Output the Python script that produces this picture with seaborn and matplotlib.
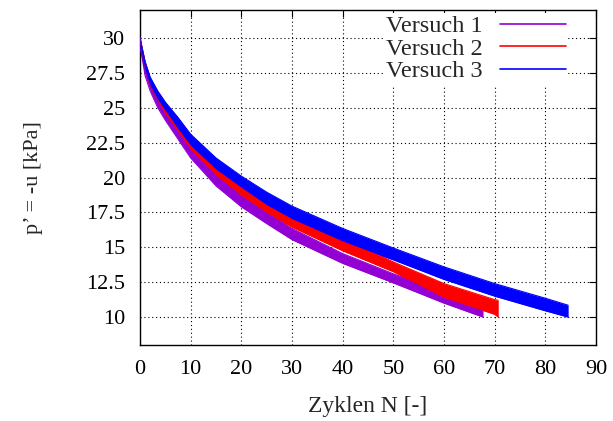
import matplotlib
matplotlib.use("Agg")
import matplotlib.pyplot as plt
import seaborn as sns
import pandas as pd
from matplotlib.lines import Line2D

# ---- data ----
series_names = ["Versuch 1", "Versuch 2", "Versuch 3"]
colors = ["#9400D3", "#FF0000", "#0000FF"]

n_v1 = [0, 1, 2, 3.5, 5, 7.5, 10, 15, 20, 25, 30, 40, 50, 60, 67.7]
upper_v1 = [30.0, 27.9, 26.8, 25.6, 24.7, 23.45, 22.2, 20.2, 18.7, 17.5, 16.35, 14.55, 13.1, 11.8, 10.7]
lower_v1 = [29.5, 27.3, 26.2, 25.0, 24.1, 22.75, 21.4, 19.4, 17.9, 16.7, 15.55, 13.85, 12.45, 11.0, 10.0]

n_v2 = [0, 1, 2, 3.5, 5, 7.5, 10, 15, 20, 25, 30, 40, 50, 60, 70, 70.7]
upper_v2 = [30.0, 28.3, 27.1, 26.1, 25.25, 24.1, 22.8, 21.05, 19.65, 18.5, 17.4, 15.7, 13.95, 12.4, 11.25, 11.2]
lower_v2 = [29.5, 27.7, 26.5, 25.5, 24.55, 23.3, 22.0, 20.15, 18.75, 17.5, 16.45, 14.75, 13.25, 11.4, 10.2, 10.0]

n_v3 = [0, 1, 2, 3.5, 5, 7.5, 10, 15, 20, 25, 30, 40, 50, 60, 70, 80, 84.5]
upper_v3 = [30.0, 28.3, 27.2, 26.2, 25.4, 24.3, 23.1, 21.4, 20.1, 18.95, 17.95, 16.35, 14.95, 13.6, 12.4, 11.35, 10.85]
lower_v3 = [29.5, 27.7, 26.6, 25.6, 24.8, 23.5, 22.3, 20.6, 19.3, 18.05, 17.05, 15.45, 14.1, 12.7, 11.5, 10.45, 10.0]

x_ticks = [0, 10, 20, 30, 40, 50, 60, 70, 80, 90]
y_ticks = [10, 12.5, 15, 17.5, 20, 22.5, 25, 27.5, 30]
y_tick_labels = ["10", "12.5", "15", "17.5", "20", "22.5", "25", "27.5", "30"]

# ---- build long table ----
rows = []
for name, ns, up, lo in zip(series_names, [n_v1, n_v2, n_v3],
                            [upper_v1, upper_v2, upper_v3],
                            [lower_v1, lower_v2, lower_v3]):
    for n, u, l in zip(ns, up, lo):
        rows.append({"N": n, "p": u, "Versuch": name, "bound": "upper"})
        rows.append({"N": n, "p": l, "Versuch": name, "bound": "lower"})
df = pd.DataFrame(rows)

sns.set_style("white")
plt.rcParams["font.family"] = ["Liberation Serif", "DejaVu Serif"]

fig = plt.figure(figsize=(6.13, 4.21), dpi=100)
ax = fig.add_axes([0.2284, 0.1805, 0.9723 - 0.2284, 0.9762 - 0.1805])

palette = dict(zip(series_names, colors))
sns.lineplot(data=df, x="N", y="p", hue="Versuch", units="bound",
             estimator=None, palette=palette, linewidth=0.8, ax=ax,
             legend=False, zorder=3)
for name, ns, up, lo in zip(series_names, [n_v1, n_v2, n_v3],
                            [upper_v1, upper_v2, upper_v3],
                            [lower_v1, lower_v2, lower_v3]):
    ax.fill_between(ns, lo, up, color=palette[name], linewidth=0, zorder=3)

ax.set_xlim(0, 90)
ax.set_ylim(8, 32)
ax.set_xticks(x_ticks)
ax.set_xticklabels([str(t) for t in x_ticks])
ax.set_yticks(y_ticks)
ax.set_yticklabels(y_tick_labels)

ax.grid(True, color="black", linestyle=(0, (1, 2.5)), linewidth=0.8, zorder=1)
ax.set_axisbelow(True)
ax.tick_params(direction="in", length=5, width=0.8, top=True, right=True,
               labelsize=16, colors="black")
ax.tick_params(axis="y", pad=10.5)
ax.tick_params(axis="x", pad=11)
for sp in ax.spines.values():
    sp.set_visible(True)
    sp.set_color("black")
    sp.set_linewidth(1.0)

ax.set_xlabel("Zyklen N [-]", fontsize=17, labelpad=12)
ax.set_ylabel("p\u2019 = -u [kPa]", fontsize=16, labelpad=31)

handles = [Line2D([0], [0], color=c, lw=1.2) for c in colors]
leg = ax.legend(handles, series_names, loc="upper right",
                bbox_to_anchor=(0.9386, 0.992), fontsize=17.5,
                markerfirst=False, frameon=True, facecolor="white",
                edgecolor="none", framealpha=1.0, handlelength=2.7,
                handletextpad=0.7, labelspacing=0.02, borderaxespad=0.0,
                borderpad=0.1, fancybox=False)
leg.set_zorder(5)

fig.savefig("out.png", dpi=100)
